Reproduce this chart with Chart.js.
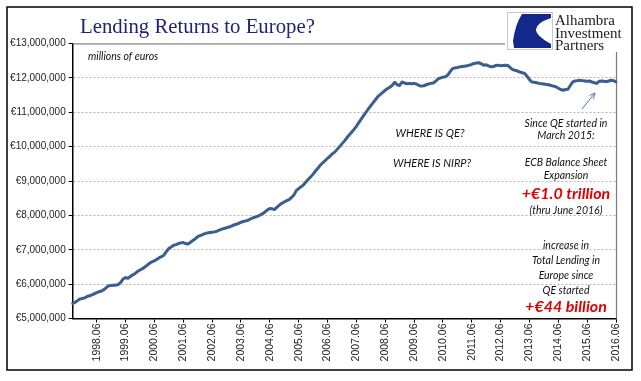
<!DOCTYPE html>
<html>
<head>
<meta charset="utf-8">
<script src="https://cdn.jsdelivr.net/npm/chart.js@4"></script>
<style>
html,body{margin:0;padding:0;background:#fff;}
canvas{display:block;}
</style>
</head>
<body>
<canvas id="c" width="641" height="381"></canvas>
<script>
// ---- data (millions of euros), monthly from 1997.08 to 2016.06 ----
const startYear = 1997, startMonth = 8, monthCount = 227;
const tickLabels = ['1998.06','1999.06','2000.06','2001.06','2002.06','2003.06','2004.06','2005.06','2006.06',
  '2007.06','2008.06','2009.06','2010.06','2011.06','2012.06','2013.06','2014.06','2015.06','2016.06'];
const lendingValues = [
5440000,5470000,5520000,5570000,5580000,5600000,5640000,5660000,5690000,5720000,5750000,5780000,
5800000,5840000,5900000,5950000,5960000,5970000,5970000,5990000,6050000,6150000,6190000,6170000,
6220000,6270000,6310000,6370000,6410000,6450000,6500000,6550000,6610000,6650000,6680000,6720000,
6770000,6800000,6850000,6950000,7040000,7080000,7130000,7150000,7180000,7200000,7210000,7180000,
7170000,7220000,7270000,7320000,7380000,7410000,7440000,7470000,7490000,7500000,7510000,7520000,
7540000,7570000,7600000,7620000,7640000,7660000,7690000,7720000,7740000,7770000,7800000,7820000,
7840000,7860000,7900000,7930000,7950000,7980000,8010000,8050000,8100000,8160000,8200000,8190000,
8170000,8240000,8300000,8350000,8390000,8430000,8460000,8520000,8590000,8720000,8780000,8830000,
8890000,8970000,9050000,9120000,9200000,9290000,9370000,9460000,9530000,9590000,9660000,9720000,
9790000,9840000,9920000,10000000,10080000,10160000,10250000,10340000,10420000,10500000,10590000,10700000,
10800000,10900000,11000000,11100000,11190000,11280000,11370000,11460000,11520000,11580000,11640000,11690000,
11730000,11790000,11870000,11800000,11780000,11880000,11850000,11830000,11840000,11830000,11840000,11820000,
11780000,11760000,11770000,11800000,11820000,11840000,11850000,11900000,11970000,12000000,12020000,12030000,
12080000,12180000,12270000,12290000,12300000,12320000,12330000,12340000,12350000,12370000,12390000,12420000,
12430000,12440000,12410000,12370000,12380000,12350000,12320000,12330000,12360000,12370000,12350000,12360000,
12370000,12360000,12300000,12240000,12220000,12200000,12170000,12150000,12130000,12050000,11950000,11880000,
11870000,11860000,11840000,11830000,11820000,11810000,11800000,11780000,11760000,11740000,11700000,11660000,
11640000,11660000,11670000,11780000,11880000,11910000,11920000,11930000,11920000,11910000,11900000,11910000,
11880000,11860000,11840000,11900000,11910000,11900000,11890000,11910000,11930000,11920000,11880000
];
const yMin = 5000000, yMax = 13000000, yStep = 1000000;

const monthLabels = [];
for (let k = 0; k < monthCount; k++) {
  const m0 = startMonth - 1 + k;
  const y = startYear + Math.floor(m0 / 12);
  const m = (m0 % 12) + 1;
  monthLabels.push(y + '.' + (m < 10 ? '0' + m : m));
}

const axisFont = "'Liberation Sans', Arial, sans-serif";
const noteFont = "Lato, 'Liberation Sans', sans-serif";

function fitText(ctx, text, family, style, size, targetW) {
  ctx.font = style + ' ' + size + 'px ' + family;
  const w = ctx.measureText(text).width;
  return size * targetW / w;
}

const decor = {
  id: 'decor',
  beforeDraw(chart) {
    const ctx = chart.ctx;
    ctx.save();
    ctx.fillStyle = '#fff';
    ctx.fillRect(0, 0, chart.width, chart.height);
    ctx.restore();
  },
  beforeDatasetsDraw(chart) {
    const ctx = chart.ctx, a = chart.chartArea;
    ctx.save();
    ctx.strokeStyle = '#7a7a7a';
    ctx.lineWidth = 1.2;
    ctx.beginPath();
    ctx.moveTo(a.left, a.top + 0.5);
    ctx.lineTo(a.right + 0.5, a.top + 0.5);
    ctx.lineTo(a.right + 0.5, a.bottom);
    ctx.stroke();
    ctx.restore();
  },
  afterDraw(chart) {
    const ctx = chart.ctx;
    ctx.save();
    // logo cover
    ctx.fillStyle = '#fff';
    ctx.fillRect(505, 9, 125, 43);
    // logo box
    ctx.strokeStyle = '#c8c8c8';
    ctx.lineWidth = 1;
    ctx.strokeRect(507.5, 12.5, 45, 37);
    ctx.fillStyle = '#12288a';
    ctx.beginPath();
    ctx.moveTo(522, 14);
    ctx.lineTo(551, 14);
    ctx.lineTo(551, 18);
    ctx.quadraticCurveTo(521, 28, 551, 44);
    ctx.lineTo(551, 48);
    ctx.lineTo(514, 48);
    ctx.lineTo(513, 41);
    ctx.quadraticCurveTo(515, 25, 522, 14);
    ctx.closePath();
    ctx.fill();
    // logo text
    ctx.fillStyle = '#222';
    ctx.textAlign = 'left';
    ctx.textBaseline = 'alphabetic';
    ctx.font = "15px 'Liberation Serif', serif";
    ctx.fillText('Alhambra', 555, 25);
    ctx.fillText('Investment', 555, 37.5);
    ctx.fillText('Partners', 555, 50);

    // title
    const tSize = fitText(ctx, 'Lending Returns to Europe?', "'Liberation Serif', serif", '', 21, 235);
    ctx.font = tSize.toFixed(2) + "px 'Liberation Serif', serif";
    ctx.fillStyle = '#1f2474';
    ctx.fillText('Lending Returns to Europe?', 80, 33);

    // notes
    ctx.fillStyle = '#111';
    ctx.textBaseline = 'middle';
    ctx.textAlign = 'left';
    ctx.font = "italic 10.5px " + noteFont;
    ctx.fillText('millions of euros', 88, 57);

    ctx.textAlign = 'center';
    ctx.font = "italic 11px " + noteFont;
    ctx.fillText('WHERE IS QE?', 430, 133);
    ctx.fillText('WHERE IS NIRP?', 432, 163);

    const cx = 566;
    const lines = [
      ['Since QE started in', 124], ['March 2015:', 136],
      ['ECB Balance Sheet', 163], ['Expansion', 176],
      ['(thru June 2016)', 211],
      ['increase in', 246], ['Total Lending in', 261], ['Europe since', 276], ['QE started', 291]
    ];
    ctx.font = "italic 10.5px " + noteFont;
    lines.forEach(([t, y]) => ctx.fillText(t, cx, y));

    ctx.fillStyle = '#e00000';
    ctx.font = "italic bold 16px " + noteFont;
    ctx.fillText('+€1.0 trillion', cx, 194);
    ctx.fillText('+€44 billion', cx, 307);

    // arrow
    ctx.strokeStyle = '#4a78b8';
    ctx.lineWidth = 1;
    ctx.beginPath();
    ctx.moveTo(582, 109);
    ctx.lineTo(595, 93);
    ctx.moveTo(595, 93);
    ctx.lineTo(589.5, 95.5);
    ctx.moveTo(595, 93);
    ctx.lineTo(593.5, 99);
    ctx.stroke();

    // outer frame
    ctx.strokeStyle = '#000';
    ctx.lineWidth = 1.5;
    ctx.strokeRect(7, 7, 625, 363);
    ctx.restore();
  }
};

new Chart(document.getElementById('c').getContext('2d'), {
  type: 'line',
  data: {
    labels: monthLabels,
    datasets: [{
      data: lendingValues,
      borderColor: '#3a5e8e',
      borderWidth: 3,
      pointRadius: 0,
      tension: 0,
      fill: false,
      borderJoinStyle: 'round',
      borderCapStyle: 'round'
    }]
  },
  options: {
    responsive: false,
    animation: false,
    devicePixelRatio: 1,
    layout: { padding: { left: 0, right: 25, top: 43.5, bottom: 0 } },
    plugins: { legend: { display: false }, tooltip: { enabled: false }, title: { display: false } },
    scales: {
      x: {
        type: 'category',
        offset: false,
        grid: { display: true, drawOnChartArea: false, drawTicks: true, tickLength: 4, tickColor: '#000', tickWidth: 1 },
        border: { display: true, color: '#000', width: 1.5 },
        ticks: {
          autoSkip: false, minRotation: 90, maxRotation: 90, padding: 1,
          color: '#222', font: { family: axisFont, size: 10.5 },
          callback: function (v) {
            const l = this.getLabelForValue(v);
            return tickLabels.includes(l) ? l : null;
          }
        },
        afterFit: s => { s.height = 62.5; }
      },
      y: {
        min: yMin, max: yMax,
        grid: { color: '#b4b4b4', lineWidth: 1, tickColor: '#000', tickLength: 4, drawTicks: true },
        border: { display: true, color: '#000', width: 1.5, dash: [2, 2] },
        ticks: {
          stepSize: yStep, padding: 3, color: '#222',
          font: { family: axisFont, size: 10 },
          callback: v => '€' + Number(v).toLocaleString('en-US')
        },
        afterFit: s => { s.width = 72.7; }
      }
    }
  },
  plugins: [decor]
});
</script>
</body>
</html>
